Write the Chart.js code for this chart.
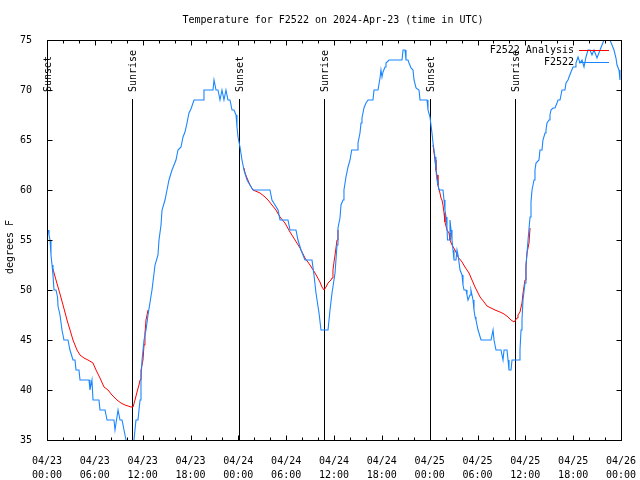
<!DOCTYPE html>
<html>
<head>
<meta charset="utf-8">
<script src="https://cdn.jsdelivr.net/npm/chart.js@4.4.1/dist/chart.umd.min.js"></script>
<style>
    html, body { margin: 0; padding: 0; background: #ffffff; }
    canvas { display: block; }
</style>
</head>
<body>
<canvas id="tempChart" width="640" height="480"></canvas>
<script>
// Hours since 04/23 00:00 UTC
const obsHours = [
    0.16, 0.25, 0.38, 0.5, 0.63, 0.75, 0.88, 1.13, 1.32, 1.38, 1.63, 1.88, 2.13, 2.63, 2.88, 3.26, 3.51, 3.64, 4.01, 4.14,
    5.27, 5.39, 5.64, 5.77, 6.52, 6.65, 7.28, 7.53, 8.4, 8.53, 8.91, 9.16, 9.41, 9.66, 9.91, 10.16, 10.54, 10.91, 11.16, 11.41,
    11.67, 11.79, 11.92, 12.17, 12.42, 12.67, 13.17, 13.55, 13.92, 14.05, 14.3, 14.43, 14.8, 15.05, 15.3, 15.68, 16.18, 16.43, 16.81, 17.06,
    17.31, 17.56, 17.81, 18.06, 18.44, 19.57, 19.69, 20.82, 20.95, 21.2, 21.45, 21.7, 21.95, 22.2, 22.45, 22.7, 22.95, 23.21, 23.46, 23.71,
    23.83, 23.96, 24.21, 24.46, 24.71, 25.09, 25.46, 25.84, 27.97, 28.22, 28.6, 28.98, 29.23, 30.23, 30.48, 31.23, 31.48, 31.86, 32.36, 33.24,
    33.49, 33.74, 34.12, 34.37, 35.25, 35.5, 35.75, 36.13, 36.38, 36.5, 36.75, 36.88, 37.13, 37.25, 37.5, 37.76, 38.01, 38.22, 38.89, 39.01,
    39.26, 39.39, 39.51, 39.76, 40.01, 40.27, 40.89, 41.02, 41.52, 41.77, 41.89, 42.02, 42.15, 42.4, 42.52, 42.9, 44.53, 44.66, 44.91, 45.03,
    45.28, 45.41, 45.66, 45.91, 46.04, 46.29, 46.66, 46.79, 47.67, 47.79, 48.04, 48.29, 48.42, 48.67, 48.79, 48.92, 49.04, 49.17, 49.67, 49.8,
    49.92, 50.05, 50.17, 50.24, 50.43, 50.55, 50.68, 50.8, 50.93, 51.05, 51.3, 51.43, 51.56, 51.81, 52.06, 52.18, 52.31, 52.56, 52.68, 52.81,
    53.06, 53.18, 53.31, 53.44, 53.56, 53.69, 53.81, 54.07, 54.44, 55.7, 55.95, 56.07, 56.32, 56.95, 57.2, 57.33, 57.7, 57.83, 57.95, 58.2,
    58.33, 59.21, 59.33, 59.46, 59.58, 59.71, 59.96, 60.08, 60.21, 60.34, 60.59, 60.71, 60.84, 61.09, 61.21, 61.34, 61.71, 61.84, 62.09, 62.21,
    62.47, 62.59, 62.72, 62.97, 63.09, 63.22, 63.47, 63.72, 63.97, 64.1, 64.35, 64.6, 64.97, 65.1, 65.35, 65.48, 65.73, 65.98, 66.23, 66.35,
    66.48, 66.61, 66.86, 67.11, 67.36, 67.61, 67.86, 68.11, 68.36, 68.61, 68.99, 69.37, 69.62, 69.87, 70.24, 70.62, 70.87, 71.12, 71.37, 71.5,
    71.75, 71.87
];
const obsTemps = [
    56, 55.5, 55, 53.5, 52.5, 51.5, 50, 50, 49.3, 48.4, 47.5, 46, 45, 45, 44, 43, 43, 42, 42, 41,
    41, 40, 41, 39, 39, 38, 38, 37, 37, 36, 38, 37, 37, 36, 35, 34, 33.5, 35, 37, 37,
    39, 41, 43, 45, 46, 47.5, 50, 52.5, 53.5, 55, 56.5, 58, 59, 60, 61, 62, 63, 64, 64.3, 65.3,
    65.8, 66.7, 67.7, 68.1, 69, 69, 70, 70, 71, 70, 70, 69, 70, 69, 70, 69, 69, 68, 68, 67.5,
    66.3, 65.3, 64.3, 63, 62, 61, 60.5, 60, 60, 59, 58.5, 58, 57, 57, 56, 56, 55, 54, 53, 53,
    51.5, 49.7, 47.7, 46, 46, 48, 49.7, 51.7, 54.5, 56.2, 57.2, 58.5, 59, 60, 61.3, 62.3, 63, 64, 64, 64.7,
    65.7, 66.7, 67.2, 68.2, 68.7, 69, 69, 70, 70, 71.2, 72, 71.3, 71.8, 72.3, 72.7, 73, 73, 74, 74, 73,
    73, 72.7, 72.2, 72, 71, 70.2, 70, 69, 69, 68, 67.3, 65.7, 64.7, 63.3, 62, 61, 60.5, 60, 60, 59,
    58, 57.3, 56.3, 55, 55, 57, 56, 55, 54, 53, 53, 54, 53.5, 52, 51.5, 50.5, 50, 50, 49.5, 49,
    49.5, 50, 49.5, 49, 48, 47.3, 47, 46, 45, 45, 46, 45, 44, 44, 43, 44, 44, 43, 42, 42,
    43, 43, 44, 46, 47, 49, 50.7, 52.5, 53.7, 55, 57.3, 58.8, 60, 61, 62, 62.7, 63, 64, 64, 65,
    65.7, 66, 66.7, 67, 67.5, 68, 68.2, 68.2, 68.7, 69, 69, 70, 70, 70.7, 71, 71.3, 71.8, 72.3, 72.3, 72.7,
    73, 73.3, 72.7, 73, 72.3, 73.3, 74, 74, 73.5, 74, 73.2, 74, 74.5, 75, 75.5, 75, 74.5, 74, 73.2, 72.5,
    72, 71
];

// Analysis only at night; null breaks the line
const anaHours = [
    0.75, 1.13, 1.63, 2.01, 2.51, 2.89, 3.26, 3.76, 4.14, 4.64, 5.14, 5.77, 6.15, 6.65, 7.15, 7.65, 8.15, 8.78, 9.28, 9.78,
    10.54, 10.79, 11.04, 11.29, 11.54, 11.67, 11.79, 12.04, 12.17, 12.29, 12.42, 12.67,
    18,
    24.71, 24.84, 25.09, 25.46, 25.84, 26.72, 27.35, 27.72, 28.22, 28.72, 29.23, 29.85, 30.48, 31.11, 31.74, 32.36, 32.99, 33.62, 34.24, 34.49,
    34.75, 35.0, 35.25, 35.62, 35.75, 35.87, 36.0, 36.13, 36.38, 36.5,
    42,
    48.42, 48.67, 48.79, 48.92, 49.04, 49.29, 49.42, 49.54, 49.67, 49.8, 49.92, 50.17, 50.43, 50.55, 50.8, 51.18, 51.56, 52.06, 52.43, 52.93,
    53.31, 53.69, 54.07, 54.32, 54.82, 55.19, 55.69, 56.2, 56.82, 57.33, 57.83, 58.2, 58.58, 58.96, 59.08, 59.33, 59.58, 59.71, 59.96, 60.08,
    60.21, 60.46, 60.59
];
const anaTemps = [
    52.1, 51.0, 49.6, 48.5, 47, 46, 45, 44, 43.5, 43.2, 43, 42.7, 42, 41.2, 40.3, 40, 39.5, 39, 38.7, 38.5,
    38.3, 38.3, 39, 39.8, 40.5, 41, 42, 43, 44.5, 45.7, 47, 48,
    null,
    62.2, 61.7, 61.2, 60.5, 60, 59.7, 59.3, 59, 58.5, 58, 57.3, 56.7, 55.8, 55, 54.2, 53.2, 52.5, 51.7, 50.8, 50.3,
    50, 50.3, 50.7, 51, 51.2, 52, 52.8, 53.5, 55, 56,
    null,
    64.5, 63, 62, 61.5, 60.5, 59.7, 59.2, 59, 58.5, 57.7, 56.8, 56, 55.7, 55, 54.5, 54, 53.3, 52.8, 52.3, 51.7,
    51, 50.3, 49.7, 49.3, 48.8, 48.4, 48.2, 48, 47.8, 47.6, 47.3, 47, 46.8, 47.2, 47.5, 47.8, 48.7, 49.7, 51, 52.3,
    53.7, 54.7, 56.2
];

// Sunrise / sunset marks
const eventHours = [0.0, 10.7, 24.04, 34.79, 48.08, 58.76];
const eventNames = ['Sunset', 'Sunrise', 'Sunset', 'Sunrise', 'Sunset', 'Sunrise'];

const yTicks = [35, 40, 45, 50, 55, 60, 65, 70, 75];
const startDay = 23;

const titleText = 'Temperature for F2522 on 2024-Apr-23 (time in UTC)';
const yTitle = 'degrees F';
const monoFont = '"DejaVu Sans Mono", "Liberation Mono", monospace';

function toPoints(hours, temps) {
    return hours.map((h, i) => ({ x: h, y: temps[i] }));
}

function tickLabel(value) {
    const day = startDay + Math.floor(value / 24);
    const hour = value % 24;
    return ['04/' + day, String(hour).padStart(2, '0') + ':00'];
}

// gnuplot look: inward ticks, frame, event lines, key and titles
const gnuplotFrame = {
    id: 'gnuplotFrame',
    beforeDatasetsDraw(chart) {
        const ctx = chart.ctx;
        const area = chart.chartArea;
        const xs = chart.scales.x;
        ctx.save();
        ctx.strokeStyle = '#000000';
        ctx.lineWidth = 1;
        ctx.fillStyle = '#000000';
        ctx.font = '10px ' + monoFont;
        for (let i = 0; i < eventHours.length; i++) {
            const px = Math.round(xs.getPixelForValue(eventHours[i])) + 0.5;
            ctx.beginPath();
            ctx.moveTo(px, area.top + 59);
            ctx.lineTo(px, area.bottom);
            ctx.stroke();

            ctx.save();
            ctx.translate(px + 1, area.top + 52);
            ctx.rotate(-Math.PI / 2);
            ctx.textAlign = 'left';
            ctx.textBaseline = 'middle';
            ctx.fillText(eventNames[i], 0, 0);
            ctx.restore();
        }
        ctx.restore();
    },
    afterDraw(chart) {
        const ctx = chart.ctx;
        const area = chart.chartArea;
        const xs = chart.scales.x;
        const ys = chart.scales.y;
        ctx.save();
        ctx.strokeStyle = '#000000';
        ctx.lineWidth = 1;

        // frame
        const l = Math.round(area.left) + 0.5;
        const r = Math.round(area.right) + 0.5;
        const t = Math.round(area.top) + 0.5;
        const b = Math.round(area.bottom) + 0.5;
        ctx.strokeRect(l, t, r - l, b - t);

        // x ticks every 2 hours, longer every 6
        ctx.beginPath();
        for (let h = 0; h <= 72; h += 2) {
            const px = Math.round(xs.getPixelForValue(h)) + 0.5;
            const len = (h % 6 === 0) ? 5 : 3;
            ctx.moveTo(px, b);
            ctx.lineTo(px, b - len);
            ctx.moveTo(px, t);
            ctx.lineTo(px, t + len);
        }
        // y ticks
        for (const v of yTicks) {
            const py = Math.round(ys.getPixelForValue(v)) + 0.5;
            ctx.moveTo(l, py);
            ctx.lineTo(l + 5, py);
            ctx.moveTo(r, py);
            ctx.lineTo(r - 5, py);
        }
        ctx.stroke();

        ctx.fillStyle = '#000000';
        ctx.font = '10px ' + monoFont;

        // title over the plot area
        ctx.textAlign = 'center';
        ctx.textBaseline = 'middle';
        ctx.fillText(titleText, (area.left + area.right) / 2 - 1, 20);

        // y axis title
        ctx.save();
        ctx.translate(10, 247);
        ctx.rotate(-Math.PI / 2);
        ctx.fillText(yTitle, 0, 0);
        ctx.restore();

        // key, top right inside the plot
        const sets = chart.data.datasets;
        const keyY = [50, 62];
        ctx.textAlign = 'right';
        for (let i = 0; i < sets.length; i++) {
            ctx.fillStyle = '#000000';
            ctx.fillText(sets[i].label, area.right - 47, keyY[i] + 0.5);
            ctx.strokeStyle = sets[i].borderColor;
            ctx.lineWidth = 1;
            ctx.beginPath();
            ctx.moveTo(area.right - 42, keyY[i] + 0.5);
            ctx.lineTo(area.right - 12, keyY[i] + 0.5);
            ctx.stroke();
        }
        ctx.restore();
    }
};

const ctx = document.getElementById('tempChart').getContext('2d');
new Chart(ctx, {
    type: 'line',
    data: {
        datasets: [{
            label: 'F2522 Analysis',
            data: toPoints(anaHours, anaTemps),
            borderColor: '#ff0000',
            borderWidth: 1,
            pointRadius: 0,
            tension: 0,
            spanGaps: false,
            order: 2
        }, {
            label: 'F2522',
            data: toPoints(obsHours, obsTemps),
            borderColor: '#1a86ff',
            borderWidth: 1.1,
            pointRadius: 0,
            tension: 0,
            order: 1
        }]
    },
    options: {
        responsive: false,
        animation: false,
        devicePixelRatio: 1,
        layout: { padding: { top: 40, right: 19, left: 0, bottom: 0 } },
        plugins: {
            legend: { display: false },
            title: { display: false },
            tooltip: { enabled: false }
        },
        scales: {
            x: {
                type: 'linear',
                min: 0,
                max: 72,
                grid: { display: false },
                border: { display: false },
                afterFit(scale) {
                    scale.height = 40;
                    // edge labels fit inside the fixed margins
                    scale.paddingLeft = 0;
                    scale.paddingRight = 0;
                },
                ticks: {
                    stepSize: 6,
                    autoSkip: false,
                    maxRotation: 0,
                    padding: 7,
                    color: '#000000',
                    font: { family: monoFont, size: 10, lineHeight: 1.35 },
                    callback: tickLabel
                }
            },
            y: {
                min: 35,
                max: 75,
                grid: { display: false },
                border: { display: false },
                afterFit(scale) { scale.width = 47; },
                ticks: {
                    stepSize: 5,
                    padding: 7,
                    color: '#000000',
                    font: { family: monoFont, size: 10 }
                }
            }
        }
    },
    plugins: [gnuplotFrame]
});
</script>
</body>
</html>
